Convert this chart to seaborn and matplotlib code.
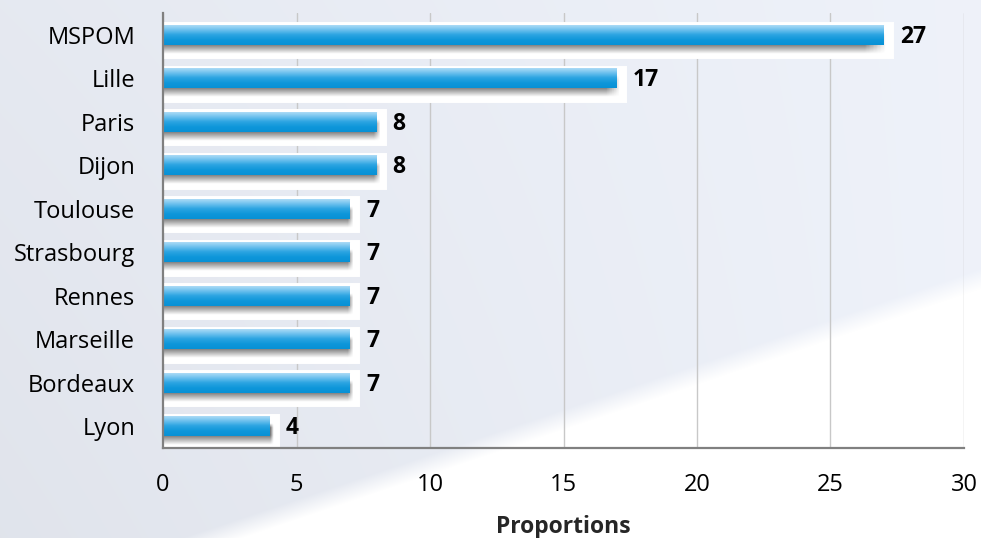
import numpy as np
import pandas as pd
import matplotlib
matplotlib.use("Agg")
import matplotlib.pyplot as plt
import matplotlib.patheffects as pe
from matplotlib.colors import LinearSegmentedColormap
import seaborn as sns

# Data
cities = ["MSPOM", "Lille", "Paris", "Dijon", "Toulouse", "Strasbourg",
          "Rennes", "Marseille", "Bordeaux", "Lyon"]
counts = [27, 17, 8, 8, 7, 7, 7, 7, 7, 4]
x_ticks = [0, 5, 10, 15, 20, 25, 30]
x_label = "Proportions"

df = pd.DataFrame({"city": cities, "count": counts})

sns.set_theme(style="white")
plt.rcParams["font.family"] = ["Open Sans", "DejaVu Sans"]

W, H = 981, 538
fig = plt.figure(figsize=(W / 100, H / 100), dpi=100)

# Pale backdrop with a white wedge in the lower right
bg = fig.add_axes([0, 0, 1, 1], zorder=-10)
yy, xx = np.mgrid[0:H, 0:W]
img = np.ones((H, W, 3)) * np.array([0.900, 0.914, 0.945])
img += 0.035 * (xx / W)[..., None]
img -= 0.02 * (yy / H)[..., None] * (1 - xx / W)[..., None]
line_y = 538 - (xx - 181) * 0.337
t = np.clip((yy - line_y) / 20.0, 0, 1)[..., None]
img = img * (1 - t) + 1.0 * t
bg.imshow(np.clip(img, 0, 1), aspect="auto", extent=[0, W, H, 0])
bg.set_axis_off()

AX_L, AX_R, AX_T, AX_B = 163, 964, 13, 448
ax = fig.add_axes([AX_L / W, 1 - AX_B / H, (AX_R - AX_L) / W, (AX_B - AX_T) / H])
ax.set_facecolor("none")

sns.barplot(data=df, y="city", x="count", orient="h", color="#0a93d6",
            width=0.46, ax=ax, zorder=3, saturation=1)

grad_cmap = LinearSegmentedColormap.from_list(
    "bar", ["#b8e0f8", "#74c4ef", "#2ea5e2", "#0f97da", "#0891d5"])
grad = np.linspace(0, 1, 64).reshape(-1, 1)

# soft drop-shadow texture (alpha profile of a blurred box)
ny, nx = 40, 200
sy = np.linspace(0, 1, ny)
sx = np.linspace(0, 1, nx)
prof_y = np.clip(np.minimum(sy / 0.2, (1 - sy) / 0.45), 0, 1)
prof_x = np.clip((1 - sx) / 0.03, 0, 1)
shadow = np.zeros((ny, nx, 4))
shadow[..., :3] = 0.36
shadow[..., 3] = 0.85 * prof_y[:, None] * prof_x[None, :]

px_per_unit_y = (AX_B - AX_T) / len(cities)
px_per_unit_x = (AX_R - AX_L) / 30

for p in ax.patches:
    p.set_path_effects([
        pe.Stroke(linewidth=12.2, foreground="white", joinstyle="miter",
                  offset=(1.1, -4.0)),
        pe.Normal(),
    ])
    x0, y0 = p.get_x(), p.get_y()
    w, h = p.get_width(), p.get_height()
    sh_top = y0 + h * 0.4
    sh_bot = y0 + h + 9 / px_per_unit_y
    ax.imshow(shadow, aspect="auto", origin="upper",
              extent=(x0, x0 + w + 4 / px_per_unit_x, sh_bot, sh_top), zorder=3.5)
    im = ax.imshow(grad, cmap=grad_cmap, aspect="auto", origin="upper",
                   extent=(x0, x0 + w, y0 + h, y0), zorder=4)
    im.set_clip_path(p)

ax.set_xlim(0, 30)
ax.set_ylim(len(cities) - 0.5, -0.5)

# Value labels: digits centred on the bar (baseline sits half a cap height below centre)
label_size = 16.5
cap_px = 0.714 * label_size * 100 / 72
for i, v in enumerate(counts):
    ax.text(v + 0.6, i + 0.5 * cap_px / px_per_unit_y, str(v), va="baseline",
            ha="left", fontsize=label_size, fontweight="bold", color="black", zorder=6)

# Grid and axes styling
ax.set_xticks(x_ticks)
ax.xaxis.grid(True, color="#c8c8c8", linewidth=1)
ax.yaxis.grid(False)
ax.set_axisbelow(True)
for s in ["top", "right"]:
    ax.spines[s].set_visible(False)
for s in ["left", "bottom"]:
    ax.spines[s].set_color("#808080")
    ax.spines[s].set_linewidth(1.6)
    ax.spines[s].set_zorder(7)

ax.set_yticks(np.arange(-0.5, len(cities), 1.0), minor=True)
ax.tick_params(axis="y", which="minor", length=6, width=1.4, color="#808080", direction="out")
ax.tick_params(axis="y", which="major", length=0, pad=20, labelsize=17, labelcolor="black")
ax.tick_params(axis="x", which="major", length=6, width=1.4, color="#808080",
               direction="out", pad=12, labelsize=17, labelcolor="black")

ax.set_ylabel("")
ax.set_xlabel(x_label, fontsize=16.5, fontweight="bold", labelpad=13)

fig.savefig("out.png", dpi=100)
